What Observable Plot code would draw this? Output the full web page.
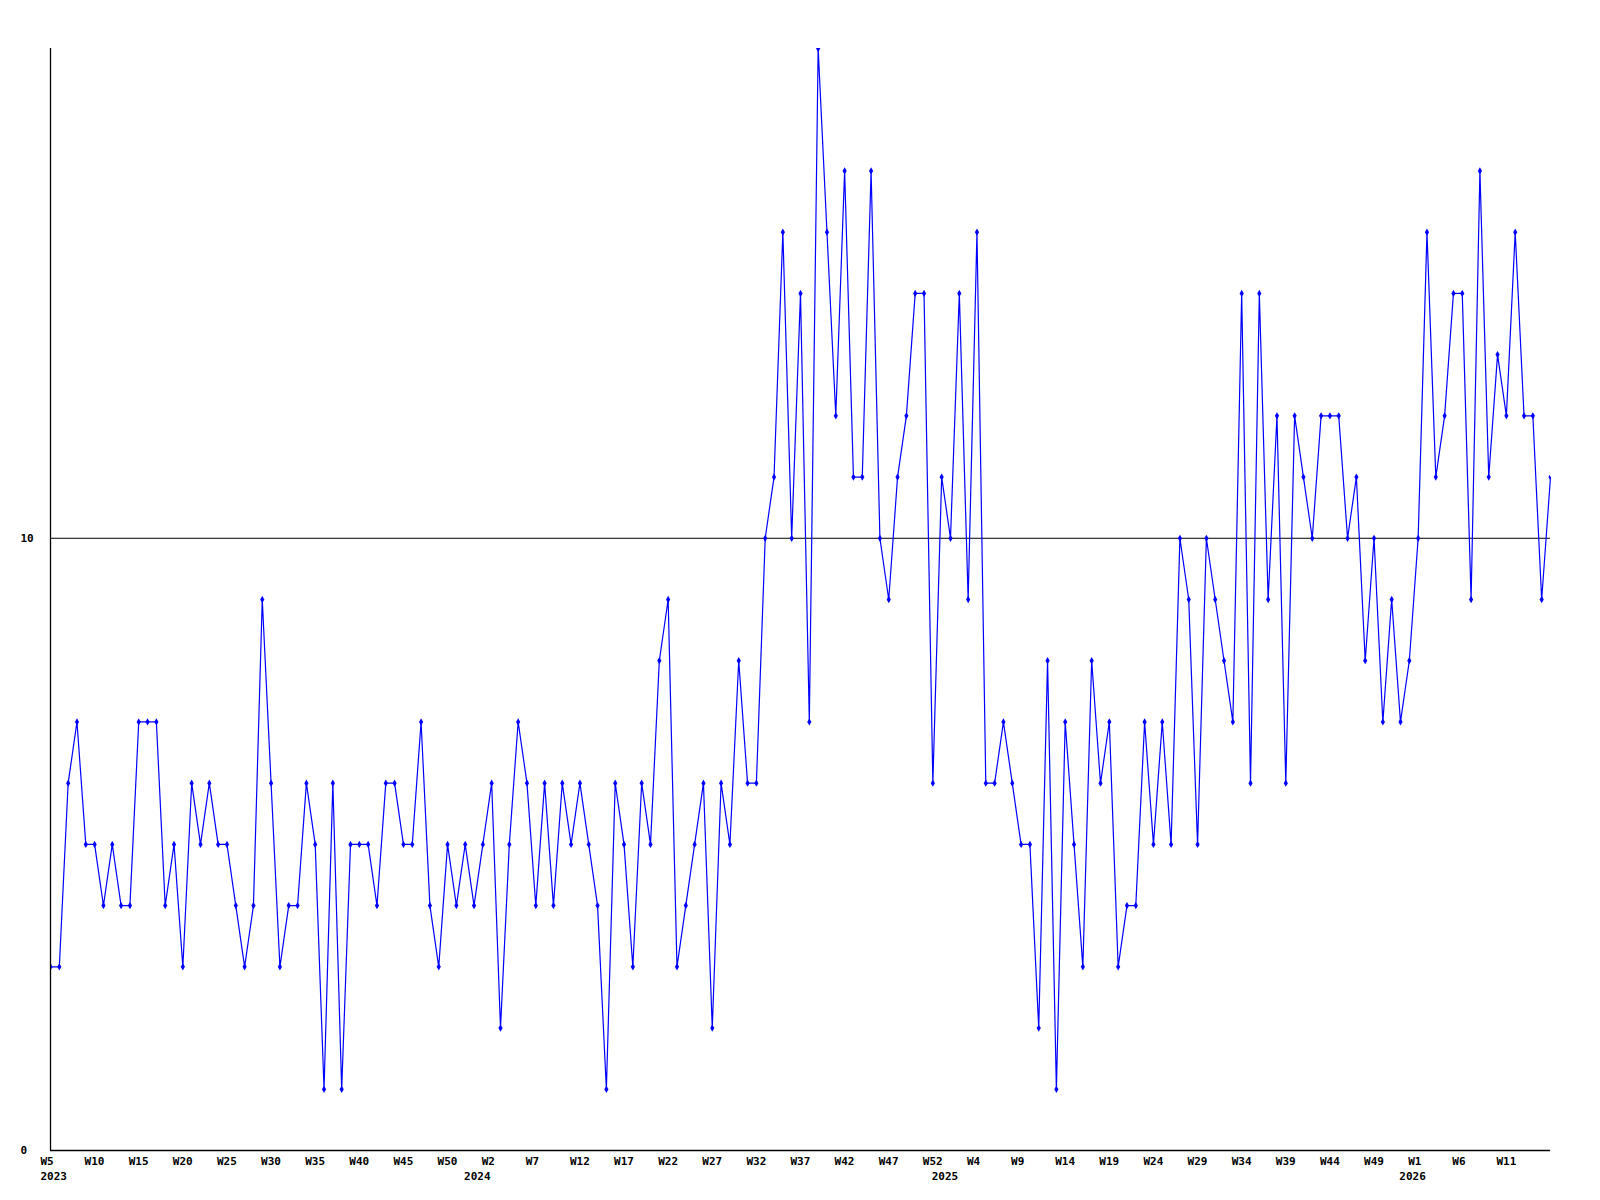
<!DOCTYPE html>
<html>
<head>
<meta charset="utf-8">
<script src="https://cdn.jsdelivr.net/npm/d3@7"></script>
<script src="https://cdn.jsdelivr.net/npm/@observablehq/plot@0.6"></script>
<style>
  html, body { margin: 0; padding: 0; background: #fff; }
  svg { display: block; }
</style>
</head>
<body>
<div id="chart"></div>
<script>
// Weekly categories (week label scheme as shown on the chart: 53 slots per year)
const weeks = [
  "2023-W05","2023-W06","2023-W07","2023-W08","2023-W09","2023-W10","2023-W11","2023-W12","2023-W13","2023-W14",
  "2023-W15","2023-W16","2023-W17","2023-W18","2023-W19","2023-W20","2023-W21","2023-W22","2023-W23","2023-W24",
  "2023-W25","2023-W26","2023-W27","2023-W28","2023-W29","2023-W30","2023-W31","2023-W32","2023-W33","2023-W34",
  "2023-W35","2023-W36","2023-W37","2023-W38","2023-W39","2023-W40","2023-W41","2023-W42","2023-W43","2023-W44",
  "2023-W45","2023-W46","2023-W47","2023-W48","2023-W49","2023-W50","2023-W51","2023-W52","2023-W53",
  "2024-W01","2024-W02","2024-W03","2024-W04","2024-W05","2024-W06","2024-W07","2024-W08","2024-W09","2024-W10",
  "2024-W11","2024-W12","2024-W13","2024-W14","2024-W15","2024-W16","2024-W17","2024-W18","2024-W19","2024-W20",
  "2024-W21","2024-W22","2024-W23","2024-W24","2024-W25","2024-W26","2024-W27","2024-W28","2024-W29","2024-W30",
  "2024-W31","2024-W32","2024-W33","2024-W34","2024-W35","2024-W36","2024-W37","2024-W38","2024-W39","2024-W40",
  "2024-W41","2024-W42","2024-W43","2024-W44","2024-W45","2024-W46","2024-W47","2024-W48","2024-W49","2024-W50",
  "2024-W51","2024-W52","2024-W53",
  "2025-W01","2025-W02","2025-W03","2025-W04","2025-W05","2025-W06","2025-W07","2025-W08","2025-W09","2025-W10",
  "2025-W11","2025-W12","2025-W13","2025-W14","2025-W15","2025-W16","2025-W17","2025-W18","2025-W19","2025-W20",
  "2025-W21","2025-W22","2025-W23","2025-W24","2025-W25","2025-W26","2025-W27","2025-W28","2025-W29","2025-W30",
  "2025-W31","2025-W32","2025-W33","2025-W34","2025-W35","2025-W36","2025-W37","2025-W38","2025-W39","2025-W40",
  "2025-W41","2025-W42","2025-W43","2025-W44","2025-W45","2025-W46","2025-W47","2025-W48","2025-W49","2025-W50",
  "2025-W51","2025-W52","2025-W53",
  "2026-W01","2026-W02","2026-W03","2026-W04","2026-W05","2026-W06","2026-W07","2026-W08","2026-W09","2026-W10",
  "2026-W11","2026-W12","2026-W13","2026-W14","2026-W15","2026-W16"
];

// Weekly values
const values = [
  3,3,6,7,5,5,4,5,4,4,7,7,7,4,5,3,6,5,6,5,5,4,
  3,4,9,6,3,4,4,6,5,1,6,1,5,5,5,4,6,6,5,5,7,4,
  3,5,4,5,4,5,6,2,5,7,6,4,6,4,6,5,6,5,4,1,6,
  5,3,6,5,8,9,3,4,5,6,2,6,5,8,6,6,10,11,15,10,14,7,
  18,15,12,16,11,11,16,10,9,11,12,14,14,6,11,10,14,9,15,6,6,
  7,6,5,5,2,8,1,7,5,3,8,6,7,3,4,4,7,5,7,5,10,9,
  5,10,9,8,7,14,6,14,9,12,6,12,11,10,12,12,12,10,11,8,10,
  7,9,7,8,10,15,11,12,14,14,9,16,11,13,12,15,12,12,9,11
];

// X week ticks and their labels
const tickWeeks = [
  "2023-W05","2023-W10","2023-W15","2023-W20","2023-W25","2023-W30","2023-W35","2023-W40","2023-W45","2023-W50",
  "2024-W02","2024-W07","2024-W12","2024-W17","2024-W22","2024-W27","2024-W32","2024-W37","2024-W42","2024-W47","2024-W52",
  "2025-W04","2025-W09","2025-W14","2025-W19","2025-W24","2025-W29","2025-W34","2025-W39","2025-W44","2025-W49",
  "2026-W01","2026-W06","2026-W11"
];
const tickLabels = [
  "W5","W10","W15","W20","W25","W30","W35","W40","W45","W50",
  "W2","W7","W12","W17","W22","W27","W32","W37","W42","W47","W52",
  "W4","W9","W14","W19","W24","W29","W34","W39","W44","W49",
  "W1","W6","W11"
];

// Year labels (second row) and where they sit
const yearTicks = ["2023-W05", "2023-W53", "2024-W53", "2025-W53"];
const yearLabels = ["2023", "2024", "2025", "2026"];

// Y ticks and reference line
const yTicks = [0, 10];
const referenceLine = [10];

const data = weeks.map((w, i) => ({week: w, value: values[i]}));
const labelOf = new Map(tickWeeks.map((w, i) => [w, tickLabels[i]]));
const yearOf = new Map(yearTicks.map((w, i) => [w, yearLabels[i]]));

const chart = Plot.plot({
  width: 1600,
  height: 1200,
  marginLeft: 50,
  marginRight: 50,
  marginTop: 48,
  marginBottom: 50,
  style: {
    fontFamily: "'DejaVu Sans Mono', monospace",
    fontSize: "11px",
    fontWeight: "bold",
    background: "#ffffff",
    color: "#000000"
  },
  x: {type: "point", domain: weeks, padding: 0},
  y: {domain: [0, 18]},
  marks: [
    Plot.axisX({
      ticks: tickWeeks,
      tickFormat: d => labelOf.get(d),
      tickSize: 0,
      tickPadding: 3,
      textAnchor: "start",
      dx: -10,
      dy: 4,
      fill: "#000",
      label: null
    }),
    Plot.axisX({
      ticks: yearTicks,
      tickFormat: d => yearOf.get(d),
      tickSize: 0,
      tickPadding: 3,
      textAnchor: "start",
      dx: -10,
      dy: 19,
      fill: "#000",
      label: null
    }),
    Plot.axisY({
      ticks: yTicks,
      tickSize: 0,
      tickPadding: 3,
      textAnchor: "start",
      dx: -27,
      fill: "#000",
      label: null
    }),
    Plot.ruleY(referenceLine, {stroke: "#000", strokeWidth: 1}),
    Plot.line(data, {x: "week", y: "value", stroke: "#0000ff", strokeWidth: 1.2}),
    Plot.dot(data, {x: "week", y: "value", symbol: "diamond", r: 2.2, fill: "#0000ff", stroke: "none", clip: true}),
    Plot.ruleX([weeks[0]], {stroke: "#000", strokeWidth: 1.3}),
    Plot.ruleY([0], {stroke: "#000", strokeWidth: 1.3})
  ]
});

document.getElementById("chart").appendChild(chart);
</script>
</body>
</html>
